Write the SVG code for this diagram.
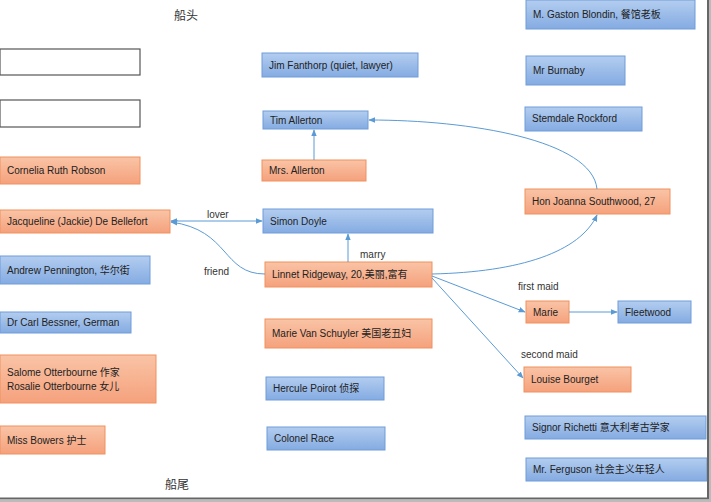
<svg xmlns="http://www.w3.org/2000/svg" width="711" height="502" viewBox="0 0 711 502">
<defs>
<linearGradient id="gO" x1="0" y1="0" x2="0" y2="1"><stop offset="0" stop-color="#f9c4a6"/><stop offset="1" stop-color="#f5a17c"/></linearGradient>
<linearGradient id="gB" x1="0" y1="0" x2="0" y2="1"><stop offset="0" stop-color="#b3cdef"/><stop offset="1" stop-color="#84abe2"/></linearGradient>
<marker id="ah" viewBox="0 0 10 10" refX="9" refY="5" markerWidth="7" markerHeight="7" orient="auto-start-reverse" markerUnits="userSpaceOnUse"><path d="M0,1 L10,5 L0,9 Z" fill="#5b9bd5"/></marker>
<style>
.o{fill:url(#gO);stroke:#f0915e;stroke-width:1}
.b{fill:url(#gB);stroke:#6f9cd8;stroke-width:1}
.w{fill:#fff;stroke:#555;stroke-width:1.2}
text{font-family:"Liberation Sans","Noto Sans CJK SC",sans-serif;font-size:10px;fill:#222}
.lbl{fill:#333}
.c{fill:none;stroke:#5b9bd5;stroke-width:1}
</style>
</defs>
<rect width="711" height="502" fill="#fff"/>
<text x="174" y="20" font-size="12" class="lbl" style="font-size:12px">船头</text>
<text x="165" y="489" style="font-size:12px" class="lbl">船尾</text>

<g id="empty1"><rect class="w" x="0" y="49" width="140" height="26"/></g>
<g id="empty2"><rect class="w" x="0" y="100" width="140" height="27"/></g>
<g id="cornelia"><rect class="o" x="0" y="157" width="140" height="27"/><text x="7" y="174">Cornelia Ruth Robson</text></g>
<g id="jacqueline"><rect class="o" x="0" y="210" width="170" height="23"/><text x="7" y="225">Jacqueline (Jackie) De Bellefort</text></g>
<g id="andrew"><rect class="b" x="0" y="256" width="150" height="28"/><text x="7" y="274">Andrew Pennington, 华尔街</text></g>
<g id="bessner"><rect class="b" x="0" y="312" width="131" height="21"/><text x="7" y="326">Dr Carl Bessner, German</text></g>
<g id="otterbourne"><rect class="o" x="0" y="355" width="156" height="48"/><text x="7" y="376">Salome Otterbourne 作家</text><text x="7" y="390">Rosalie Otterbourne 女儿</text></g>
<g id="bowers"><rect class="o" x="0" y="426" width="105" height="28"/><text x="7" y="444">Miss Bowers 护士</text></g>

<g id="jim"><rect class="b" x="262" y="53" width="156" height="24"/><text x="269" y="69">Jim Fanthorp (quiet, lawyer)</text></g>
<g id="tim"><rect class="b" x="263" y="111" width="105" height="18"/><text x="270" y="124">Tim Allerton</text></g>
<g id="mrsallerton"><rect class="o" x="262" y="160" width="104" height="21"/><text x="269" y="174">Mrs. Allerton</text></g>
<g id="simon"><rect class="b" x="263" y="209" width="170" height="24"/><text x="270" y="225">Simon Doyle</text></g>
<g id="linnet"><rect class="o" x="265" y="262" width="167" height="25"/><text x="272" y="278">Linnet Ridgeway, 20,美丽,富有</text></g>
<g id="vanschuyler"><rect class="o" x="265" y="319" width="167" height="29"/><text x="272" y="337">Marie Van Schuyler 美国老丑妇</text></g>
<g id="poirot"><rect class="b" x="266" y="377" width="118" height="23"/><text x="273" y="392">Hercule Poirot 侦探</text></g>
<g id="race"><rect class="b" x="267" y="427" width="118" height="23"/><text x="274" y="442">Colonel Race</text></g>

<g id="blondin"><rect class="b" x="526" y="0" width="169" height="29"/><text x="533" y="18">M. Gaston Blondin, 餐馆老板</text></g>
<g id="burnaby"><rect class="b" x="526" y="56" width="99" height="29"/><text x="533" y="74">Mr Burnaby</text></g>
<g id="rockford"><rect class="b" x="525" y="107" width="117" height="24"/><text x="532" y="122">Stemdale Rockford</text></g>
<g id="joanna"><rect class="o" x="525" y="189" width="145" height="25"/><text x="532" y="205">Hon Joanna Southwood,  27</text></g>
<g id="marie"><rect class="o" x="526" y="301" width="43" height="22"/><text x="533" y="316">Marie</text></g>
<g id="fleetwood"><rect class="b" x="618" y="301" width="73" height="22"/><text x="625" y="316">Fleetwood</text></g>
<g id="louise"><rect class="o" x="524" y="367" width="107" height="25"/><text x="531" y="383">Louise Bourget</text></g>
<g id="richetti"><rect class="b" x="525" y="416" width="181" height="23"/><text x="532" y="431">Signor Richetti 意大利考古学家</text></g>
<g id="ferguson"><rect class="b" x="526" y="458" width="181" height="23"/><text x="533" y="473">Mr. Ferguson 社会主义年轻人</text></g>

<g id="connectors">
<path class="c" d="M171,221 L262,221" marker-start="url(#ah)" marker-end="url(#ah)"/>
<path class="c" d="M265,274 C222,274 230,230 171,222" marker-end="url(#ah)"/>
<path class="c" d="M348,262 L348,234" marker-end="url(#ah)"/>
<path class="c" d="M314,160 L314,130" marker-end="url(#ah)"/>
<path class="c" d="M597,189 C592,140 470,120 369,120" marker-end="url(#ah)"/>
<path class="c" d="M432,274 C520,272 580,252 597,215" marker-end="url(#ah)"/>
<path class="c" d="M432,276 L525,312" marker-end="url(#ah)"/>
<path class="c" d="M432,278 L523,378" marker-end="url(#ah)"/>
<path class="c" d="M569,312 L617,312" marker-end="url(#ah)"/>
</g>
<text x="207" y="218" class="lbl">lover</text>
<text x="204" y="275" class="lbl">friend</text>
<text x="360" y="258" class="lbl">marry</text>
<text x="518" y="290" class="lbl">first maid</text>
<text x="521" y="358" class="lbl">second maid</text>

<path d="M708,0 L708,498.5 L0,498.5" fill="none" stroke="#666" stroke-width="2"/>
<path d="M710,0 L710,501 L0,501" fill="none" stroke="#bbb" stroke-width="2"/>
</svg>
